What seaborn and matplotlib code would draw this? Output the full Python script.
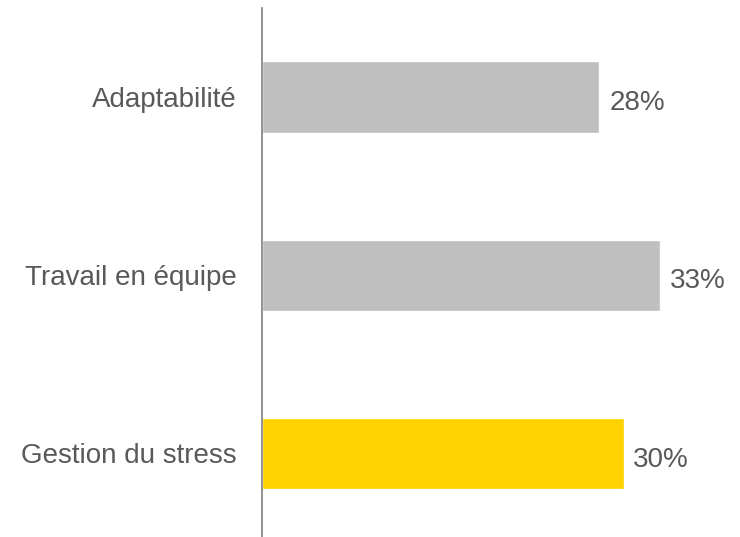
import matplotlib
matplotlib.use("Agg")
import pandas as pd
import matplotlib.pyplot as plt
import seaborn as sns

# Data
categories = ["Adaptabilité", "Travail en équipe", "Gestion du stress"]
values = [28, 33, 30]
bar_colors = ["#BFBFBF", "#BFBFBF", "#FFD200"]

df = pd.DataFrame({"competence": categories, "pct": values})

sns.set_style("white")
plt.rcParams["font.family"] = ["Liberation Sans", "DejaVu Sans"]

fig = plt.figure(figsize=(7.4, 5.37), dpi=100)
ax = fig.add_axes([262 / 740, 0.0, 470 / 740, 529 / 537])

sns.barplot(data=df, y="competence", x="pct", hue="competence",
            palette=bar_colors, width=0.4, legend=False, ax=ax, saturation=1)

for cont in ax.containers:
    labs = ax.bar_label(cont, labels=[f"{v:.0f}%" for v in cont.datavalues],
                        padding=7, fontsize=20, color="#595959")
    # nudge the value labels down a little, as in the reference
    for t in labs:
        x0, y0 = t.xyann
        t.xyann = (x0, y0 - 4.5)

ax.set_xlim(0, 39)
ax.set_ylim(2.47, -0.5)
ax.set_xlabel("")
ax.set_ylabel("")
ax.set_xticks([])
ax.tick_params(axis="y", length=0, pad=18, labelsize=20, labelcolor="#595959")
for side in ["top", "right", "bottom"]:
    ax.spines[side].set_visible(False)
ax.spines["left"].set_color("#7F7F7F")
ax.spines["left"].set_linewidth(1.2)

fig.savefig("out.png", dpi=100)
